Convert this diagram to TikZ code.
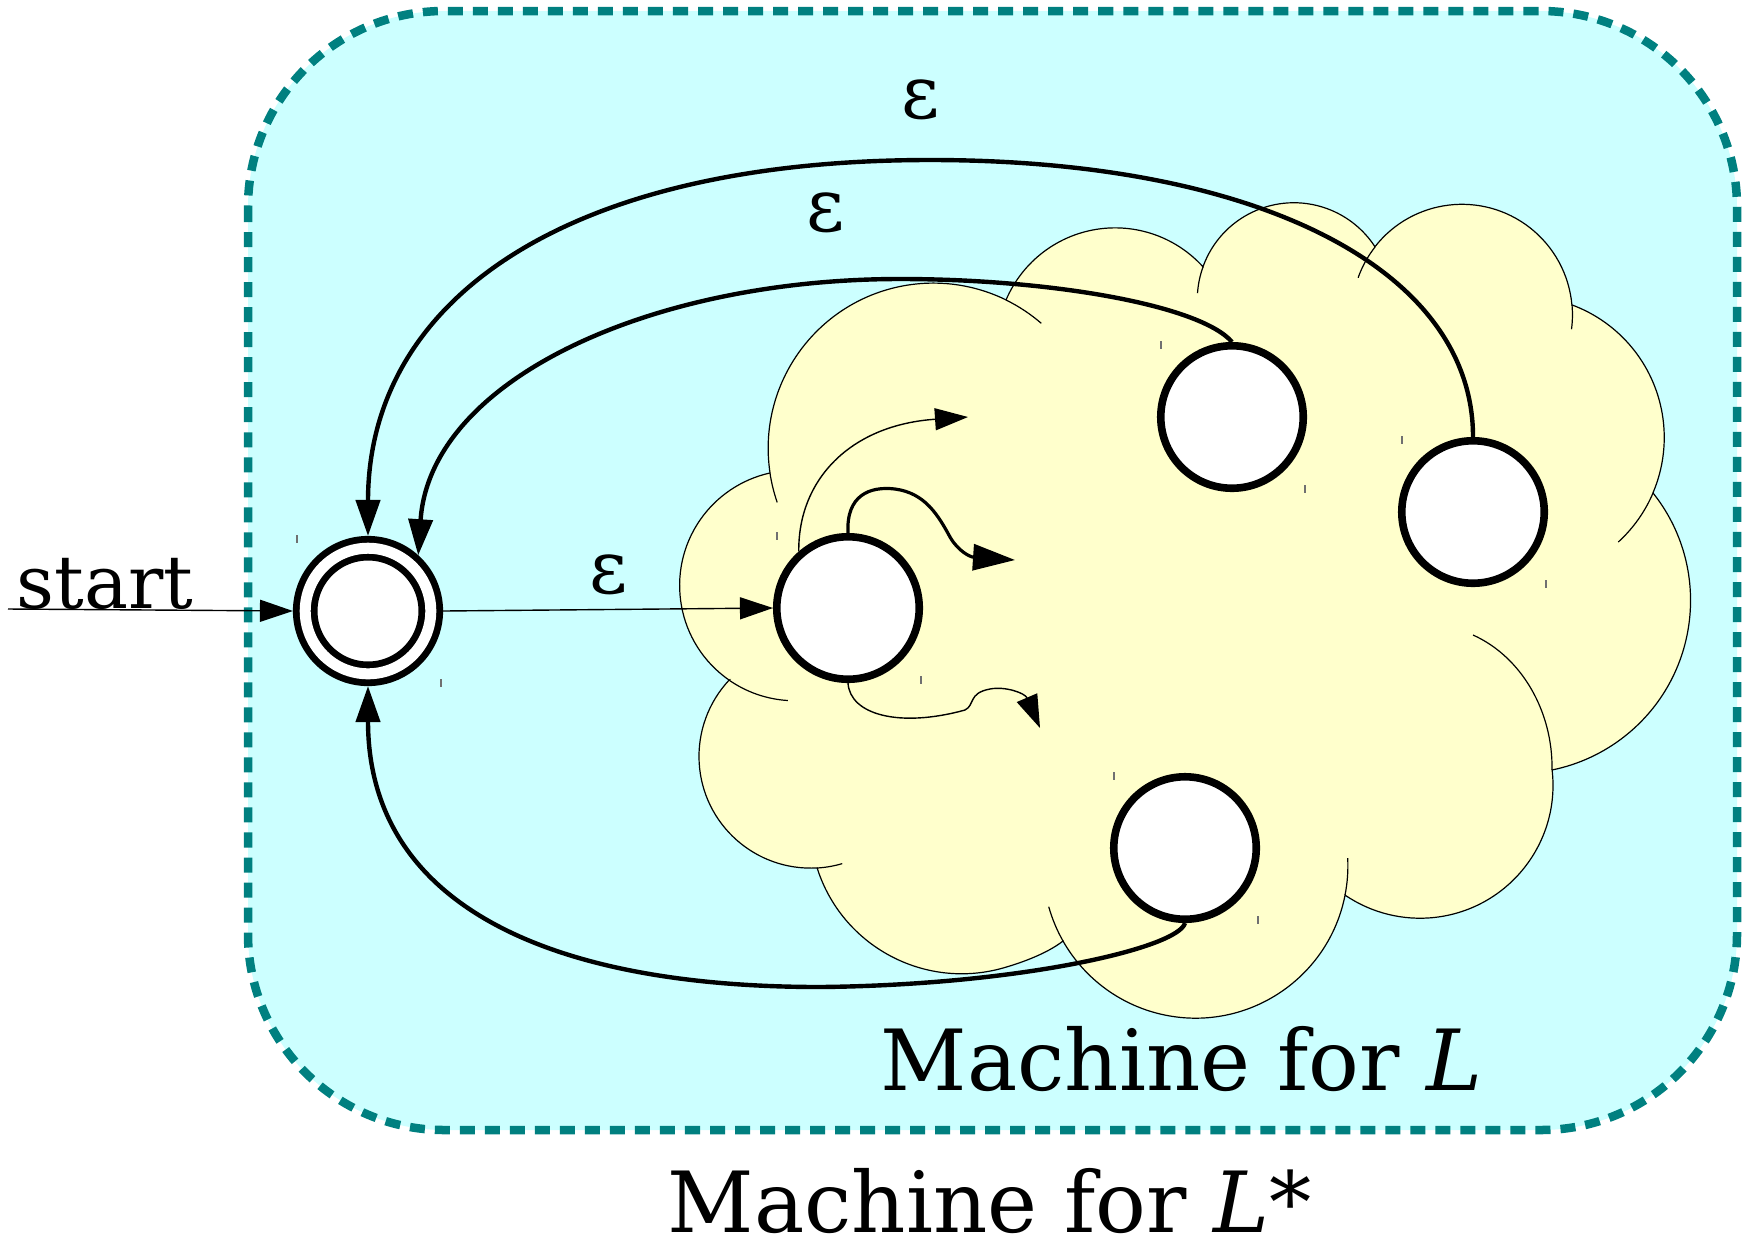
\documentclass[tikz,border=0pt]{standalone}
\usepackage{fontspec}
\setmainfont{DejaVu Serif}
\usetikzlibrary{arrows.meta}

\definecolor{boxteal}{HTML}{008080}
\definecolor{boxfill}{HTML}{CCFFFF}
\definecolor{cloudfill}{HTML}{FFFFCC}
\definecolor{tickgray}{HTML}{707070}

\begin{document}
\begin{tikzpicture}[x=0.01cm, y=-0.01cm,
  outerbox/.style={draw=boxteal, fill=boxfill, line width=0.085cm,
    dash pattern=on 0.15cm off 0.10cm, rounded corners=1.96cm},
  cloudshape/.style={draw=black, fill=cloudfill, line width=0.012cm},
  cloudtail/.style={draw=black, line width=0.012cm},
  state/.style={circle, draw=black, fill=white, line width=0.076cm,
    minimum size=1.424cm, inner sep=0pt, outer sep=0.038cm},
  accepting/.style={circle, draw=black, fill=white, double=white,
    double distance=0.11cm, line width=0.068cm, minimum size=1.255cm,
    inner sep=0pt, outer sep=0.1225cm},
  thinarrow/.style={line width=0.014cm, -{Triangle[length=0.33cm, width=0.22cm]}},
  thickarc/.style={line width=0.044cm, -{Triangle[length=0.36cm, width=0.24cm]}},
  midarrow/.style={line width=0.032cm, -{Triangle[length=0.42cm, width=0.26cm]}},
  lbl/.style={inner sep=0pt, font=\fontsize{21}{25}\selectfont},
  biglbl/.style={inner sep=0pt, font=\fontsize{24}{28}\selectfont},
  tick/.style={draw=tickgray, line width=0.012cm}
]
\useasboundingbox (0,0) rectangle (1743,1239);

% outer machine (L*)
\path[outerbox] (248,11) rectangle (1737,1130);

% cloud standing for the machine for L: one circular lobe after another
\path[cloudshape] (729,680)
  arc[start angle=124.85, end angle=257.57, radius=115.2]
  arc[start angle=171.4, end angle=296.1, radius=165.2]
  arc[start angle=203.1, end angle=317.8, radius=118.6]
  arc[start angle=199.7, end angle=327.0, radius=96.6]
  arc[start angle=218.0, end angle=354.9, radius=110.4]
  arc[start angle=290.3, end angle=383.06, radius=141.4]
  arc[start angle=321.5, end angle=438.5, radius=172.9]
  arc[start angle=353.4, end angle=484.3, radius=133.0]
  arc[start angle=11.1, end angle=150.4, radius=152.4]
  .. controls (1045,955) and (1017,964) .. (1003,968)
  arc[start angle=74.2, end angle=162.4, radius=151.7]
  arc[start angle=86.7, end angle=223.2, radius=111.7]
  -- cycle;

% inner arcs of the cloud, continuing the lobes past their joints
\draw[cloudtail] (787.8,700.5) arc[start angle=93.5, end angle=124.85, radius=115.2];
\draw[cloudtail] (777.2,502.4) arc[start angle=160.9, end angle=171.4, radius=165.2];
\draw[cloudtail] (1006,300) arc[start angle=296.1, end angle=310.8, radius=165.2];
\draw[cloudtail] (1197.5,293.2) arc[start angle=183.8, end angle=199.7, radius=96.6];
\draw[cloudtail] (1358.1,277.7) arc[start angle=199.7, end angle=218.0, radius=110.4];
\draw[cloudtail] (1572,305) arc[start angle=354.9, end angle=367.5, radius=110.4];
\draw[cloudtail] (1653,493) arc[start angle=23.06, end angle=47.6, radius=141.4];
\draw[cloudtail] (1552,770) .. controls (1553,712) and (1522,657) .. (1473,635);
\draw[cloudtail] (1347.7,858.2) arc[start angle=-2.8, end angle=11.1, radius=152.4];
\draw[cloudtail] (1063,941) arc[start angle=150.4, end angle=164.4, radius=152.4];
\draw[cloudtail] (842.2,863.6) arc[start angle=73.5, end angle=86.7, radius=111.7];

% states
\node[accepting] (s0) at (368,611) {};
\node[state] (s1) at (848,608) {};
\node[state] (s2) at (1232,417) {};
\node[state] (s3) at (1473,512) {};
\node[state] (s4) at (1185,848) {};

% free ends of the transitions
\coordinate (startpt) at (8,609);
\coordinate (c1end) at (968,417);
\coordinate (c2end) at (1015,560);
\coordinate (c3end) at (1040,728);

% epsilon transitions back to the start state
\draw[thickarc] (s3.north) .. controls (1473,271) and (1262,160) .. (930,160)
  .. controls (565,160) and (368,300) .. (s0.north);
\draw[thickarc] (s2.north) .. controls (1200,305) and (1050,279) .. (900,279)
  .. controls (650,279) and (430,380) .. (s0.48);
\draw[thickarc] (s4.south) .. controls (1178,948) and (1020,985) .. (820,987)
  .. controls (540,987) and (368,900) .. (s0.south);

% start and epsilon into the machine for L
\draw[thinarrow] (startpt) -- (s0.west);
\draw[thinarrow] (s0.east) -- (s1.west);

% transitions leaving the first state of the machine for L
\draw[thinarrow] (s1.131) .. controls (798,480) and (850,425) .. (c1end);
\draw[midarrow] (s1.north) .. controls (846,495) and (870,486) .. (895,489)
  .. controls (925,493) and (938,515) .. (950,537)
  .. controls (958,551) and (970,557) .. (c2end);
\draw[thinarrow] (s1.south) .. controls (850,715) and (900,728) .. (965,710)
  .. controls (975,705) and (968,693) .. (990,689)
  .. controls (1005,686) and (1025,693) .. (c3end);

% corner marks of the states
\foreach \n in {s0,s1,s2,s3,s4} {
  \draw[tick] ([shift={(-71,-76)}]\n.center) -- ++(0,8);
  \draw[tick] ([shift={(73,68)}]\n.center) -- ++(0,8);
}

% labels
\node[lbl, anchor=base west] (startlbl) at (16,608) {start};
\node[lbl] (eps1) at (921,100) {ε};
\node[lbl] (eps2) at (826,213) {ε};
\node[lbl] (eps3) at (609,575) {ε};
\node[biglbl, anchor=base west] (mlabel) at (880,1090) {Machine for \textit{L}};
\node[biglbl, anchor=base west] (mstarlabel) at (667,1232) {Machine for \textit{L}*};
\end{tikzpicture}
\end{document}
